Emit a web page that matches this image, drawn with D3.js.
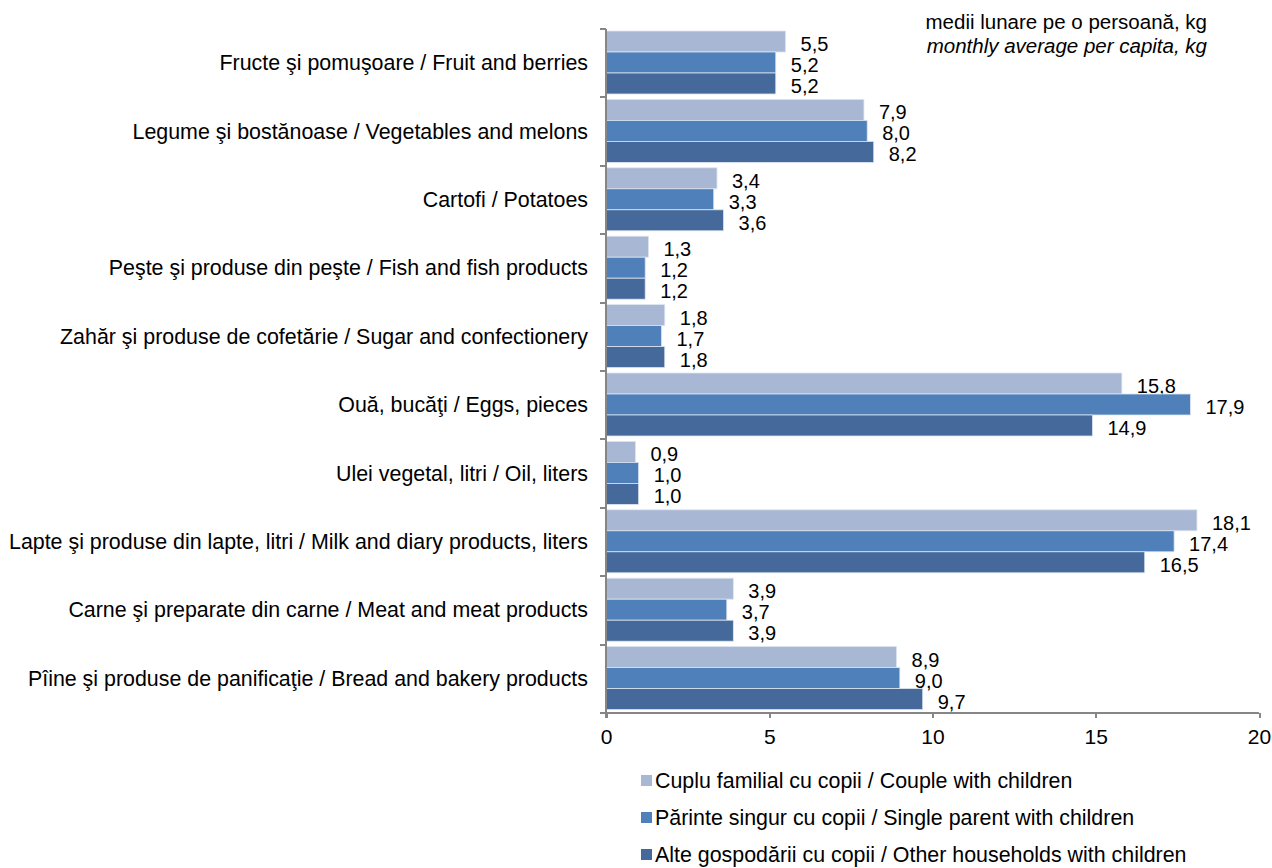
<!doctype html>
<html>
<head>
    <meta charset="utf-8"/>
    <style>
        html, body {
            margin: 0;
            padding: 0;
            background: #fff;
        }
        svg {
            display: block;
            font-family: "Liberation Sans", Arial, sans-serif;
        }
        .axis path, .axis line {
            stroke: #868686;
            stroke-width: 2;
            shape-rendering: crispEdges;
        }
        .axis text {
            font-size: 21px;
            fill: #000;
        }
    </style>
    <script src="https://d3js.org/d3.v7.min.js"></script>
</head>
<body>
<svg width="1272" height="868"></svg>

<script>
    // categories top -> bottom
    var categories = [
        "Fructe şi pomuşoare / Fruit and berries",
        "Legume şi bostănoase / Vegetables and melons",
        "Cartofi / Potatoes",
        "Peşte şi produse din peşte / Fish and fish products",
        "Zahăr şi produse de cofetărie / Sugar and confectionery",
        "Ouă, bucăţi / Eggs, pieces",
        "Ulei vegetal, litri / Oil, liters",
        "Lapte şi produse din lapte, litri / Milk and diary products, liters",
        "Carne şi preparate din carne / Meat and meat products",
        "Pîine şi produse de panificaţie / Bread and bakery products"
    ];
    var seriesNames = [
        "Cuplu familial cu copii / Couple with children",
        "Părinte singur cu copii / Single parent with children",
        "Alte gospodării cu copii / Other households with children"
    ];
    var couple = [5.5, 7.9, 3.4, 1.3, 1.8, 15.8, 0.9, 18.1, 3.9, 8.9];
    var single = [5.2, 8.0, 3.3, 1.2, 1.7, 17.9, 1.0, 17.4, 3.7, 9.0];
    var other  = [5.2, 8.2, 3.6, 1.2, 1.8, 14.9, 1.0, 16.5, 3.9, 9.7];
    var xTicks = [0, 5, 10, 15, 20];
    var colors = ["#a8b7d4", "#4f80b9", "#45699a"];

    var series = [couple, single, other];
    var svg = d3.select("svg");

    var x = d3.scaleLinear().domain([0, 20]).range([606, 1259]);
    var y = d3.scaleBand().domain(categories).range([29, 713]);
    var inner = d3.scaleBand().domain([0, 1, 2]).range([2, 65]);

    var fmt = function(v) { return v.toFixed(1).replace(".", ","); };

    // bars
    series.forEach(function(vals, s) {
        var g = svg.append("g");
        g.selectAll("rect").data(vals).enter().append("rect")
            .attr("x", x(0))
            .attr("y", function(d, i) { return y(categories[i]) + inner(s); })
            .attr("width", function(d) { return x(d) - x(0); })
            .attr("height", inner.bandwidth())
            .attr("fill", colors[s])
            .attr("stroke", "#dde4f0")
            .attr("stroke-width", 0.8);
        g.selectAll("text").data(vals).enter().append("text")
            .attr("x", function(d) { return x(d) + 15; })
            .attr("y", function(d, i) { return y(categories[i]) + inner(s) + inner.bandwidth() / 2 + 9.5; })
            .attr("font-size", 20)
            .text(fmt);
    });

    // y axis (category boundaries as ticks)
    svg.append("line")
        .attr("x1", x(0)).attr("x2", x(0))
        .attr("y1", 29).attr("y2", 718)
        .attr("stroke", "#868686").attr("stroke-width", 2);
    svg.append("g").selectAll("line")
        .data(d3.range(categories.length + 1)).enter().append("line")
        .attr("x1", x(0) - 6).attr("x2", x(0))
        .attr("y1", function(i) { return Math.round(29 + i * y.step()); })
        .attr("y2", function(i) { return Math.round(29 + i * y.step()); })
        .attr("stroke", "#868686").attr("stroke-width", 2);

    svg.append("g").selectAll("text")
        .data(categories).enter().append("text")
        .attr("x", 588)
        .attr("y", function(d) { return y(d) + y.bandwidth() / 2 + 7; })
        .attr("text-anchor", "end")
        .attr("font-size", 21.4)
        .text(function(d) { return d; });

    // x axis
    var xAxis = svg.append("g")
        .attr("class", "axis")
        .attr("transform", "translate(0,713)")
        .call(d3.axisBottom(x).tickValues(xTicks).tickSize(5).tickPadding(11).tickSizeOuter(0));
    xAxis.select(".domain").attr("d", "M" + (x(0) - 6) + ",0H" + x(20));
    xAxis.selectAll("text").attr("font-family", "Liberation Sans, Arial, sans-serif");

    // unit note
    svg.append("text").attr("x", 1207).attr("y", 29)
        .attr("text-anchor", "end").attr("font-size", 20.5)
        .text("medii lunare pe o persoană, kg");
    svg.append("text").attr("x", 1207).attr("y", 53)
        .attr("text-anchor", "end").attr("font-size", 20.5).attr("font-style", "italic")
        .text("monthly average per capita, kg");

    // legend
    var legend = svg.append("g").selectAll("g")
        .data(seriesNames).enter().append("g")
        .attr("transform", function(d, i) { return "translate(641," + (781 + i * 37) + ")"; });
    legend.append("rect")
        .attr("x", 0).attr("y", -6).attr("width", 11).attr("height", 11)
        .attr("fill", function(d, i) { return colors[i]; });
    legend.append("text")
        .attr("x", 14).attr("y", 7)
        .attr("font-size", 21.4)
        .text(function(d) { return d; });
</script>
</body>
</html>
